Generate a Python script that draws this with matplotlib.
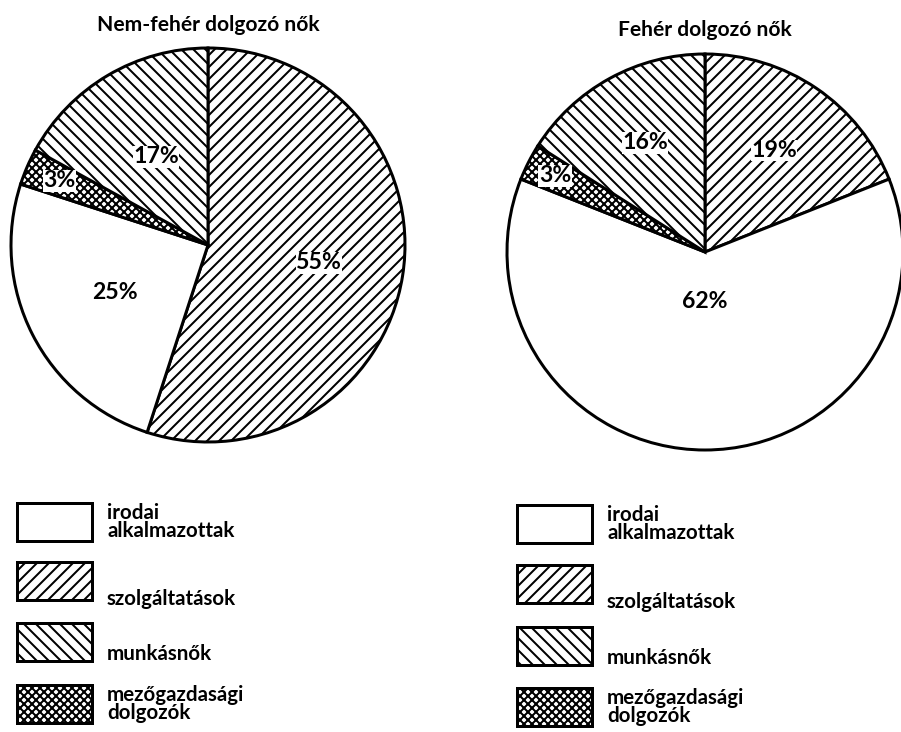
import numpy as np
import matplotlib
matplotlib.use('Agg')
import matplotlib.pyplot as plt
from matplotlib.patches import Rectangle

plt.rcParams['font.family'] = ['Lato', 'DejaVu Sans']
plt.rcParams['hatch.linewidth'] = 2.0
plt.rcParams['hatch.color'] = 'black'

# categories, in the order they run clockwise from the top of each pie
categories = ['szolgáltatások', 'irodai\nalkalmazottak', 'mezőgazdasági\ndolgozók', 'munkásnők']
hatches = ['//', '', 'xxx', '\\\\']

titles = ['Nem-fehér dolgozó nők', 'Fehér dolgozó nők']
nonwhite = [55, 25, 3, 17]
white = [19, 62, 3, 16]

# legend order (top to bottom), as indices into categories
legend_order = [1, 0, 3, 2]

W, H = 901, 732
DPI = 72
fig = plt.figure(figsize=(W / DPI, H / DPI), dpi=DPI)
ax = fig.add_axes([0, 0, 1, 1])

pies = [
    dict(vals=nonwhite, center=(208, H - 245), r=197, title_y=H - 25,
         label_frac=[0.57, 0.53, 0.82, 0.52],
         box_x=17, box_tops=[503, 562, 623, 685]),
    dict(vals=white, center=(705, H - 252), r=198, title_y=H - 30,
         label_frac=[0.62, 0.25, 0.85, 0.63],
         box_x=517, box_tops=[505, 565, 627, 688]),
]

box_w, box_h = 75, 38
text_frac = {1: 0.5, 0: 0.03, 3: 0.19, 2: 0.5}

for p, title in zip(pies, titles):
    cx, cy = p['center']
    wedges, _ = ax.pie(p['vals'], center=p['center'], radius=p['r'],
                       startangle=90, counterclock=False,
                       colors=['white'] * 4, hatch=hatches,
                       wedgeprops=dict(edgecolor='black', linewidth=3))
    for w, v, f in zip(wedges, p['vals'], p['label_frac']):
        mid = np.deg2rad((w.theta1 + w.theta2) / 2)
        ax.text(cx + f * p['r'] * np.cos(mid), cy + f * p['r'] * np.sin(mid),
                f'{v}%', ha='center', va='center', fontsize=23,
                fontweight='bold',
                bbox=dict(facecolor='white', edgecolor='none', pad=0.5))
    ax.text(cx, p['title_y'], title, ha='center', va='center',
            fontsize=21, fontweight='bold')

    # legend boxes
    for k, top in zip(legend_order, p['box_tops']):
        y0 = H - top - box_h
        ax.add_patch(Rectangle((p['box_x'], y0), box_w, box_h,
                               facecolor='white', edgecolor='black',
                               linewidth=3, hatch=hatches[k]))
        ax.text(p['box_x'] + box_w + 15, y0 + text_frac[k] * box_h,
                categories[k], ha='left', va='center', fontsize=20.5,
                fontweight='bold', linespacing=0.9)

ax.set_xlim(0, W)
ax.set_ylim(0, H)
ax.set_aspect('equal')
ax.axis('off')

fig.savefig('out.png', dpi=DPI, facecolor='white')
